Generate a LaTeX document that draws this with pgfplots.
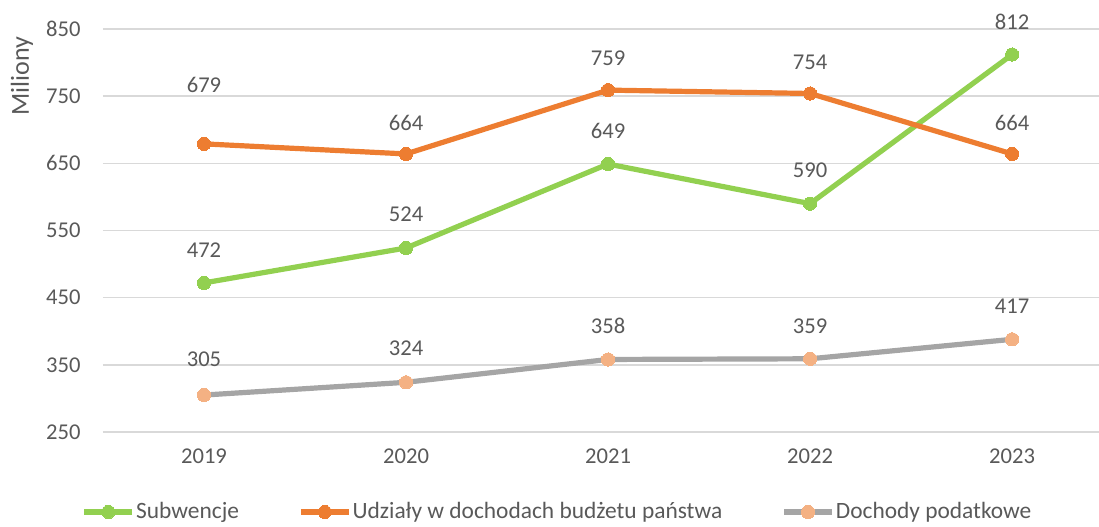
\documentclass[border=0pt]{standalone}
\usepackage{pgfplots}
\pgfplotsset{compat=1.18}
\usepackage{pgfplotstable}
\usepackage{fontspec}
\setmainfont{Carlito}
\definecolor{cgreen}{HTML}{92D050}
\definecolor{corange}{HTML}{ED7D31}
\definecolor{cgray}{HTML}{A5A5A5}
\definecolor{cpeach}{HTML}{F4B183}
\definecolor{ctext}{HTML}{595959}
\definecolor{cgrid}{HTML}{D9D9D9}
\newcommand{\lblfont}{\fontsize{11.3}{13}\selectfont}
\newcommand{\legfont}{\fontsize{11.7}{13}\selectfont}

\pgfplotstableread{
x y lbl dy
0 472 472 16.5
1 524 524 17
2 649 649 16.5
3 590 590 16.5
4 812 812 16.5
}\subw
\pgfplotstableread{
x y lbl dy
0 679 679 29.5
1 664 664 15.5
2 759 759 16
3 754 754 15.5
4 664 664 15.5
}\udz
\pgfplotstableread{
x y lbl dy
0 305 305 18
1 324 324 17
2 358 358 17
3 359 359 16.5
4 388 417 16.5
}\doch

\begin{document}
\begin{tikzpicture}
\begin{axis}[
  name=ax,
  scale only axis,
  width=498pt, height=201.5pt,
  xmin=-0.5, xmax=4.43,
  ymin=250, ymax=850,
  ytick={250,350,...,850},
  xtick={0,1,2,3,4},
  xticklabels={2019,2020,2021,2022,2023},
  axis line style={draw=none},
  tick style={draw=none},
  ymajorgrids,
  grid style={cgrid, line width=0.75pt},
  clip=false,
  /pgf/number format/assume math mode=true,
  /pgf/number format/1000 sep={},
  ticklabel style={font=\lblfont, text=ctext},
  yticklabel style={anchor=east, xshift=-7.7pt},
  xticklabel style={anchor=center, yshift=-12pt},
  ylabel={Miliony},
  ylabel style={at={(rel axis cs:-0.0815,0.883)}, anchor=center, font=\fontsize{13}{15}\selectfont, text=ctext},
  legend columns=3,
  legend style={at={(rel axis cs:0.456,-0.1985)}, anchor=center, draw=none, fill=none,
    font=\legfont, text=ctext,
    /tikz/every even column/.append style={column sep=29pt},
    nodes={inner sep=0.6pt}},
  legend image code/.code={
    \draw[#1, mark repeat=2, mark phase=2] plot coordinates {(0pt,0pt) (12pt,0pt) (24pt,0pt)};
  },
  nodes near coords={\pgfplotspointmeta},
  point meta=explicit symbolic,
]
\addplot[cgreen, line width=2.6pt, mark=*, mark size=3.3pt,
  mark options={solid, fill=cgreen, draw=cgreen, line width=0pt},
  visualization depends on={\thisrow{dy} \as \dy},
  nodes near coords style={anchor=center, yshift=\dy pt, font=\lblfont, text=ctext}]
  table[x=x, y=y, meta=lbl] {\subw};
\addlegendentry{Subwencje}
\addplot[corange, line width=2.6pt, mark=*, mark size=3.3pt,
  mark options={solid, fill=corange, draw=corange, line width=0pt},
  visualization depends on={\thisrow{dy} \as \dy},
  nodes near coords style={anchor=center, yshift=\dy pt, font=\lblfont, text=ctext}]
  table[x=x, y=y, meta=lbl] {\udz};
\addlegendentry{Udziały w dochodach budżetu państwa}
\addplot[cgray, line width=2.6pt, mark=*, mark size=3.3pt,
  mark options={solid, fill=cpeach, draw=cpeach, line width=0pt},
  visualization depends on={\thisrow{dy} \as \dy},
  nodes near coords style={anchor=center, yshift=\dy pt, font=\lblfont, text=ctext}]
  table[x=x, y=y, meta=lbl] {\doch};
\addlegendentry{Dochody podatkowe}
\end{axis}
\pgfresetboundingbox
\path[use as bounding box] ([xshift=-51.5pt, yshift=-47pt]ax.south west) rectangle ([yshift=14.5pt]ax.north east);
\end{tikzpicture}
\end{document}
